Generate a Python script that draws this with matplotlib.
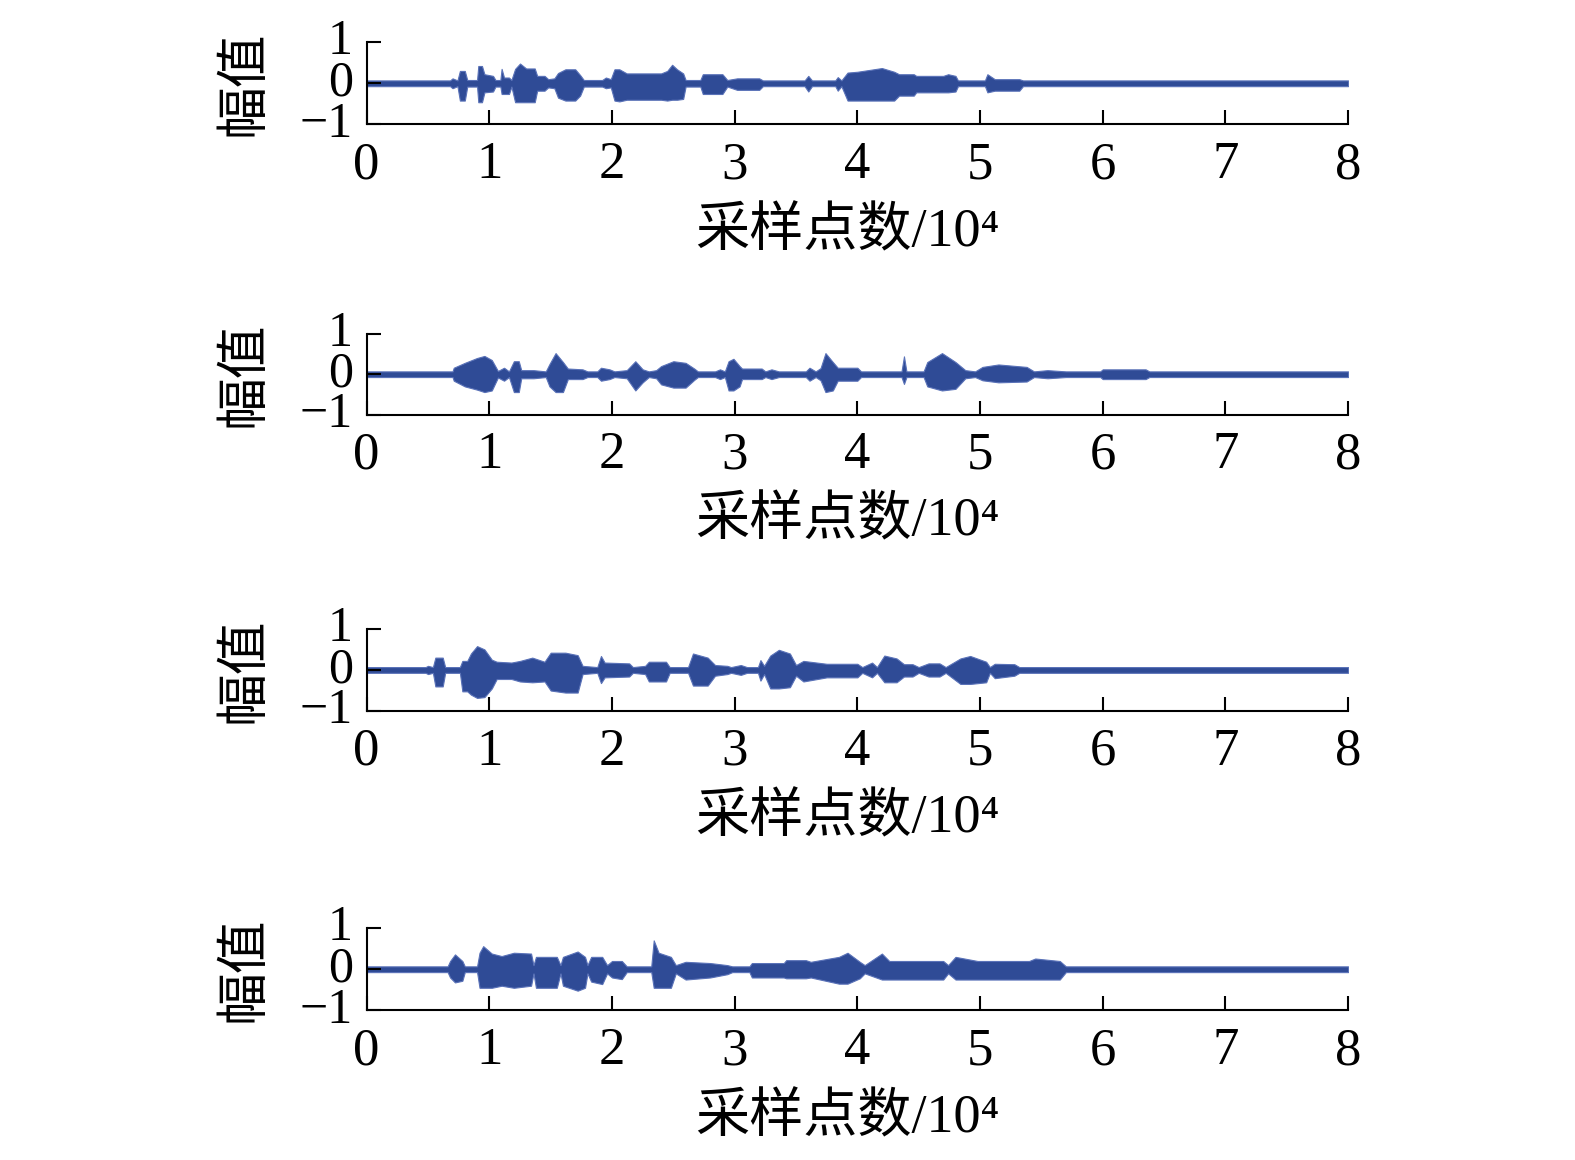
import matplotlib
matplotlib.use("Agg")
import matplotlib.pyplot as plt
import numpy as np

plt.rcParams['font.family'] = ['Liberation Serif', 'Noto Sans CJK SC', 'DejaVu Sans']

# envelope points: x in units of 10^4 samples,
# upper / lower amplitude of the waveform
x1 = [0, 0.68, 0.70, 0.74, 0.76, 0.80, 0.82, 0.90, 0.91, 0.94, 0.96, 1.03, 1.05, 1.09, 1.10, 1.12, 1.16, 1.18,
      1.21, 1.25, 1.30, 1.37, 1.39, 1.45, 1.48, 1.53, 1.56, 1.62, 1.70, 1.74, 1.77, 1.92, 1.95, 1.99, 2.02, 2.06,
      2.12, 2.40, 2.45, 2.49, 2.53, 2.58, 2.60, 2.72, 2.74, 2.90, 2.94, 3.02, 3.20, 3.23, 3.57, 3.60, 3.63, 3.82,
      3.84, 3.87, 3.92, 4.00, 4.20, 4.30, 4.34, 4.46, 4.48, 4.70, 4.74, 4.80, 4.82, 5.04, 5.06, 5.12, 5.32, 5.35, 8]
up1 = [.07, .07, .12, .07, .30, .30, .08, .08, .42, .42, .22, .18, .08, .08, .35, .14, .14, .08,
       .35, .48, .36, .36, .18, .18, .10, .12, .25, .34, .34, .20, .08, .08, .14, .10, .34, .34,
       .24, .24, .30, .45, .34, .24, .08, .08, .22, .22, .08, .12, .12, .07, .07, .18, .07, .07,
       .15, .07, .26, .28, .37, .28, .22, .22, .18, .18, .22, .18, .07, .07, .22, .10, .10, .07, .07]
lo1 = [.07, .07, .12, .07, .42, .42, .08, .08, .46, .46, .22, .20, .08, .08, .26, .26, .26, .08,
       .46, .46, .46, .46, .18, .18, .10, .12, .35, .42, .42, .30, .08, .08, .12, .10, .42, .44,
       .40, .40, .42, .40, .40, .38, .08, .08, .26, .26, .08, .16, .16, .07, .07, .20, .07, .07,
       .18, .07, .42, .42, .42, .42, .30, .30, .22, .22, .22, .20, .07, .07, .22, .18, .18, .07, .07]

x2 = [0, 0.70, 0.71, 0.80, 0.90, 0.96, 1.02, 1.07, 1.12, 1.16, 1.20, 1.24, 1.26, 1.36, 1.46, 1.49, 1.54, 1.60,
      1.64, 1.76, 1.80, 1.88, 1.91, 1.98, 2.02, 2.12, 2.19, 2.25, 2.30, 2.36, 2.40, 2.50, 2.60, 2.67, 2.70, 2.84,
      2.88, 2.92, 2.95, 2.99, 3.04, 3.06, 3.22, 3.25, 3.30, 3.36, 3.58, 3.61, 3.66, 3.70, 3.74, 3.80, 3.84, 4.00,
      4.03, 4.36, 4.38, 4.40, 4.54, 4.57, 4.69, 4.80, 4.88, 4.96, 5.02, 5.15, 5.38, 5.44, 5.55, 5.70, 5.98, 6.00,
      6.35, 6.38, 8]
up2 = [.07, .07, .16, .28, .40, .45, .35, .08, .16, .07, .32, .32, .10, .10, .07, .25, .52, .30,
       .14, .12, .07, .07, .16, .12, .07, .10, .32, .12, .07, .10, .20, .32, .28, .14, .07, .07,
       .12, .07, .32, .38, .20, .14, .14, .07, .12, .07, .07, .16, .07, .15, .52, .30, .16, .16,
       .07, .07, .44, .07, .07, .30, .52, .30, .10, .07, .18, .24, .18, .07, .10, .07, .07, .12,
       .12, .07, .07]
lo2 = [.07, .07, .16, .30, .38, .44, .40, .08, .16, .07, .44, .44, .10, .10, .07, .30, .44, .44,
       .12, .12, .07, .07, .16, .12, .07, .10, .40, .20, .07, .10, .25, .33, .33, .14, .07, .07,
       .12, .07, .40, .40, .30, .12, .12, .07, .12, .07, .07, .16, .07, .15, .44, .40, .16, .16,
       .07, .07, .24, .07, .07, .30, .40, .36, .10, .07, .15, .20, .18, .07, .10, .07, .07, .12,
       .12, .07, .07]

x3 = [0, 0.48, 0.50, 0.54, 0.56, 0.62, 0.64, 0.76, 0.78, 0.82, 0.85, 0.90, 0.96, 1.02, 1.06, 1.18, 1.25, 1.35,
      1.45, 1.50, 1.62, 1.72, 1.76, 1.88, 1.91, 1.94, 2.14, 2.17, 2.27, 2.30, 2.44, 2.47, 2.62, 2.66, 2.78, 2.84,
      2.94, 2.97, 3.05, 3.10, 3.19, 3.21, 3.24, 3.29, 3.36, 3.45, 3.50, 3.56, 3.75, 4.00, 4.04, 4.12, 4.16, 4.22,
      4.32, 4.38, 4.45, 4.50, 4.58, 4.67, 4.72, 4.84, 4.92, 5.05, 5.08, 5.12, 5.28, 5.32, 8]
up3 = [.07, .07, .10, .07, .30, .30, .07, .07, .22, .22, .40, .58, .50, .25, .20, .18, .22, .30,
       .20, .42, .42, .36, .10, .07, .34, .18, .16, .07, .10, .20, .20, .07, .07, .40, .30, .12,
       .10, .07, .12, .07, .07, .24, .10, .35, .49, .40, .12, .22, .15, .15, .07, .18, .07, .35,
       .28, .14, .14, .07, .16, .16, .07, .28, .34, .20, .07, .15, .14, .07, .07]
lo3 = [.07, .07, .10, .07, .40, .40, .07, .07, .52, .52, .60, .68, .66, .45, .22, .22, .28, .30,
       .28, .50, .55, .55, .10, .07, .32, .18, .16, .07, .10, .28, .28, .07, .07, .38, .38, .14,
       .10, .07, .12, .07, .07, .26, .10, .45, .45, .42, .14, .28, .18, .18, .07, .18, .07, .30,
       .30, .16, .16, .07, .16, .16, .07, .34, .34, .30, .07, .20, .14, .07, .07]

x4 = [0, 0.66, 0.68, 0.72, 0.78, 0.80, 0.90, 0.92, 0.95, 1.02, 1.10, 1.20, 1.34, 1.36, 1.38, 1.55, 1.58, 1.60,
      1.72, 1.78, 1.80, 1.83, 1.92, 1.96, 2.00, 2.08, 2.12, 2.32, 2.34, 2.38, 2.48, 2.52, 2.60, 2.80, 2.94, 2.98,
      3.12, 3.14, 3.40, 3.42, 3.58, 3.62, 3.85, 3.92, 4.02, 4.06, 4.20, 4.26, 4.70, 4.74, 4.80, 4.98, 5.40, 5.45,
      5.65, 5.70, 8]
up4 = [.07, .07, .20, .36, .20, .07, .07, .40, .56, .38, .32, .40, .38, .10, .30, .30, .10, .30,
       .43, .30, .10, .30, .30, .10, .20, .20, .07, .07, .70, .40, .30, .10, .18, .15, .10, .07,
       .07, .15, .15, .22, .22, .18, .30, .40, .18, .10, .38, .20, .20, .10, .30, .20, .20, .26,
       .20, .07, .07]
lo4 = [.07, .07, .20, .32, .28, .07, .07, .45, .45, .45, .40, .45, .40, .10, .45, .45, .10, .40,
       .52, .45, .10, .30, .36, .10, .20, .24, .07, .07, .45, .45, .45, .10, .25, .20, .12, .07,
       .07, .20, .20, .22, .22, .20, .35, .35, .22, .10, .25, .25, .25, .10, .25, .25, .25, .25,
       .25, .07, .07]

signals = [(x1, up1, lo1), (x2, up2, lo2), (x3, up3, lo3), (x4, up4, lo4)]
xticks = [0, 1, 2, 3, 4, 5, 6, 7, 8]
yticks = [-1, 0, 1]

wave_color = '#2f4b96'
fig = plt.figure(figsize=(15.75, 11.6), dpi=100)
# axes boxes: left, bottom, width, height (figure fractions)
boxes = [(0.2328, 0.8927, 0.6231, 0.0710),
         (0.2328, 0.6424, 0.6231, 0.0700),
         (0.2328, 0.3870, 0.6231, 0.0709),
         (0.2328, 0.1289, 0.6231, 0.0711)]

for box, (x, up, lo) in zip(boxes, signals):
    ax = fig.add_axes(box)
    x = np.array(x)
    ax.fill_between(x, -np.array(lo), np.array(up), color=wave_color, linewidth=0.8,
                    edgecolor='#5a72b8')
    ax.set_xlim(0, 8)
    ax.set_ylim(-1, 1)
    ax.set_xticks(xticks)
    ax.set_yticks(yticks)
    ax.set_yticklabels(['\u22121', '0', '1'], va='center')
    ax.spines['top'].set_visible(False)
    ax.spines['right'].set_visible(False)
    for s in ['left', 'bottom']:
        ax.spines[s].set_linewidth(1.5)
    ax.tick_params(direction='in', length=10, width=1.5, pad=12)
    ax.tick_params(axis='x', labelsize=38)
    ax.tick_params(axis='y', labelsize=36, pad=10)
    ax.set_ylabel('幅值', fontsize=38, family=['Noto Sans CJK SC'])
    ax.yaxis.set_label_coords(-0.098, 0.5)
    ax.set_xlabel('采样点数/10\u2074', fontsize=39, family=['Liberation Serif', 'Noto Sans CJK SC'])
    ax.xaxis.set_label_coords(0.49, -1.32)
    ax.xaxis.label.set_va('center')

fig.savefig('out.png', dpi=100)
